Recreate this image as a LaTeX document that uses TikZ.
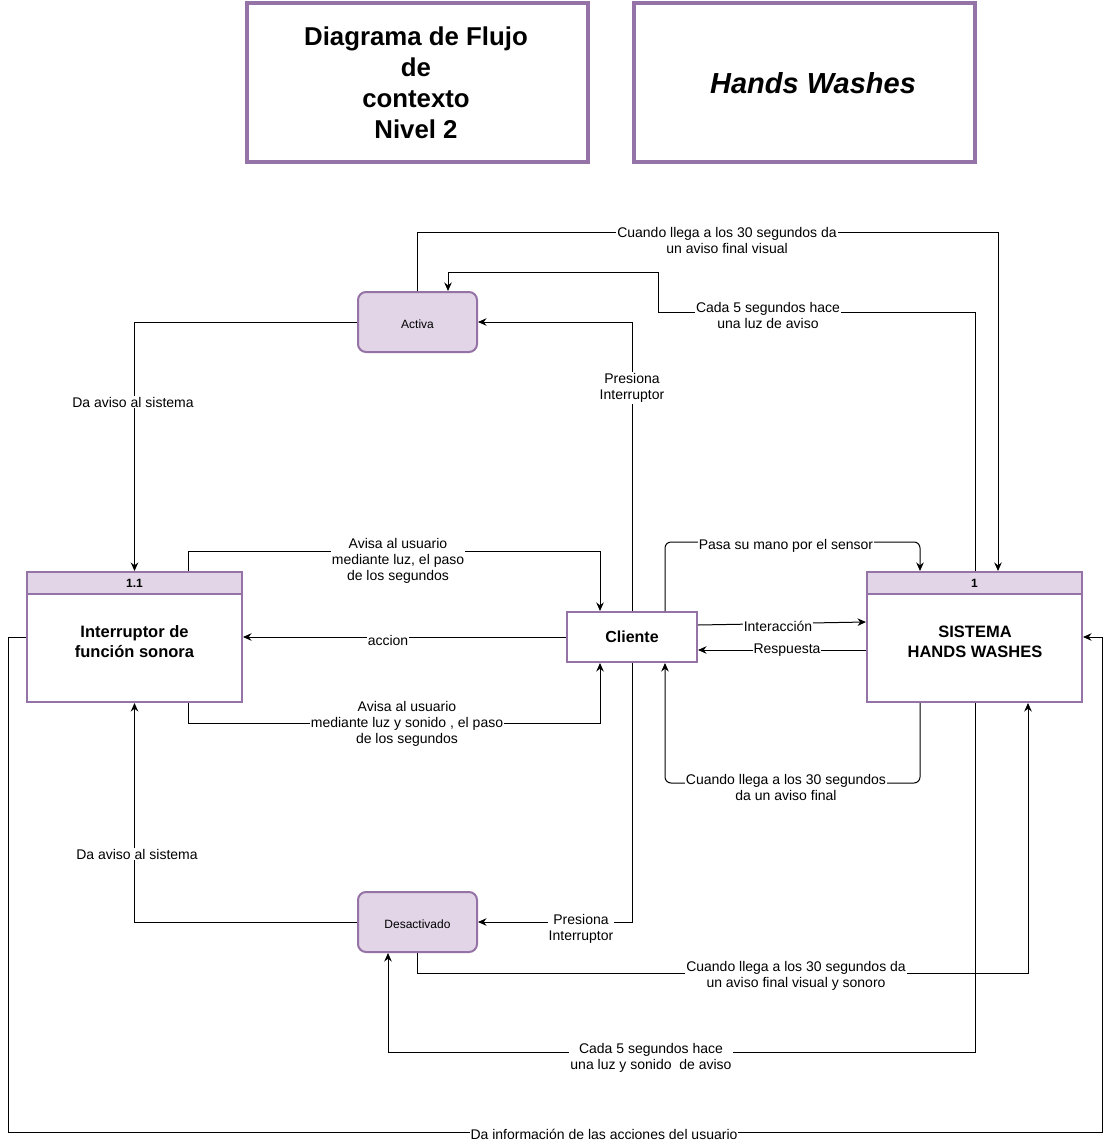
\documentclass[tikz,border=0pt]{standalone}
\usepackage{fontspec}
\setmainfont{Liberation Sans}
\usetikzlibrary{arrows.meta}
\definecolor{pstroke}{HTML}{9673A6}
\definecolor{pfill}{HTML}{E1D5E7}
\tikzset{
  flow/.style={draw=black, line width=1pt, -{Stealth[length=8.5pt,width=7.5pt]}},
  lbl/.style={fill=white, inner sep=1pt, align=center, yshift=-2pt, font=\fontsize{14}{16}\selectfont},
  titlebox/.style={draw=pstroke, line width=4pt, minimum width=341pt, minimum height=159pt, inner sep=0pt},
  procbox/.style={draw=pstroke, line width=2pt, fill=white, minimum width=215pt, minimum height=130pt, inner sep=0pt},
  hdrbox/.style={draw=pstroke, line width=2pt, fill=pfill, minimum width=215pt, minimum height=22pt, inner sep=0pt, font=\bfseries\fontsize{12}{14}\selectfont},
  boxtext/.style={align=center, inner sep=0pt, font=\bfseries\fontsize{16.5}{20}\selectfont},
  statebox/.style={draw=pstroke, line width=2pt, fill=pfill, rounded corners=8pt, minimum width=119pt, minimum height=60pt, inner sep=0pt, font=\fontsize{12}{14}\selectfont},
  entbox/.style={draw=pstroke, line width=2pt, fill=white, minimum width=130pt, minimum height=50pt, inner sep=0pt, font=\bfseries\fontsize{16}{19}\selectfont}
}
\begin{document}
\begin{tikzpicture}[x=1pt,y=-1pt]
\useasboundingbox[fill=white] (0,0) rectangle (1111,1142);

% title boxes
\node[titlebox] (t1) at (417.5,82.5) {};
\node[align=center, inner sep=0pt, font=\bfseries\fontsize{25.8}{31}\selectfont] (t1t) at (416,83) {Diagrama de Flujo\\de\\contexto\\Nivel 2};
\node[titlebox] (t2) at (804.5,82.5) {};
\node[inner sep=0pt, font=\bfseries\itshape\fontsize{29}{34}\selectfont] (t2t) at (813,83) {Hands Washes};

% process boxes
\node[procbox] (int) at (134.5,637) {};
\node[hdrbox, anchor=north] (inth) at (int.north) {1.1};
\node[boxtext] (intt) at (134.5,642) {Interruptor de\\función sonora};

\node[procbox] (sis) at (974.5,637) {};
\node[hdrbox, anchor=north] (sish) at (sis.north) {1};
\node[boxtext] (sist) at (975,642) {SISTEMA\\HANDS WASHES};

% entity
\node[entbox] (cli) at (632,637) {Cliente};

% states
\node[statebox] (act) at (417.5,322) {};
\node[inner sep=0pt, font=\fontsize{12}{14}\selectfont] (actt) at (417.5,324) {Activa};
\node[statebox] (des) at (417.5,922) {};
\node[inner sep=0pt, font=\fontsize{12}{14}\selectfont] (dest) at (417.5,924) {Desactivado};

% connectors
\draw[flow] (act.west) -| (int.north);
\node[lbl] (l1) at (133,400) {Da aviso al sistema};

\draw[flow] (des.west) -| (int.south);
\node[lbl] (l2) at (137,852) {Da aviso al sistema};

\draw[flow] ([xshift=53.5]int.north) -- ++(0,-20) -| ([xshift=-32]cli.north);
\node[lbl] (l3) at (398,559) {Avisa al usuario\\mediante luz, el paso\\de los segundos};

\draw[flow] (cli.west) -- (int.east);
\node[lbl] (l4) at (388,638) {accion};

\draw[flow] ([xshift=53.5]int.south) -- ++(0,20) -| ([xshift=-32]cli.south);
\node[lbl] (l5) at (407,722) {Avisa al usuario\\mediante luz y sonido , el paso\\de los segundos};

\draw[flow] (cli.north) |- (act.east);
\node[lbl] (l6) at (632,386) {Presiona\\Interruptor};

\draw[flow] (cli.south) |- (des.east);
\node[lbl] (l7) at (581,927) {Presiona\\Interruptor};

\draw[flow] (act.north) -- ++(0,-59) -| ([xshift=23.5]sis.north);
\node[lbl] (l8) at (727,238) {Cuando llega a los 30 segundos da\\un aviso final visual};

\draw[flow] ([xshift=0.5]sis.north) |- (658,312) |- (448,272) -- ([xshift=30.5]act.north);
\node[lbl] (l9) at (768,313) {Cada 5 segundos hace\\una luz de aviso};

\draw[flow, rounded corners=6pt] ([xshift=33]cli.north) -- ++(0,-69) -| ([xshift=-54.5]sis.north);
\node[lbl] (l10) at (786,544) {Pasa su mano por el sensor};

\draw[flow] ([yshift=12]cli.east) -- ([yshift=15]sis.west);
\node[lbl] (l11) at (778,624) {Interacción};

\draw[flow] ([yshift=-13]sis.west) -- ([yshift=-13]cli.east);
\node[lbl] (l12) at (787,648) {Respuesta};

\draw[flow, rounded corners=6pt] ([xshift=-54.5]sis.south) -- ++(0,80) -| ([xshift=33]cli.south);
\node[lbl] (l13) at (786,785) {Cuando llega a los 30 segundos\\da un aviso final};

\draw[flow] (des.south) -- ++(0,20) -| ([xshift=53.5]sis.south);
\node[lbl] (l14) at (796,974) {Cuando llega a los 30 segundos da\\un aviso final visual y sonoro};

\draw[flow] ([xshift=0.5]sis.south) -- (975,1052) -| ([xshift=-29.5]des.south);
\node[lbl] (l15) at (651,1056) {Cada 5 segundos hace\\una luz y sonido\ \ de aviso};

\coordinate (c1) at (8,637);
\coordinate (c2) at (1102,1132);
\draw[flow] (int.west) -- (c1) |- (c2) |- (sis.east);
\node[lbl, yshift=2pt] (l16) at (604,1134) {Da información de las acciones del usuario};
\end{tikzpicture}
\end{document}
